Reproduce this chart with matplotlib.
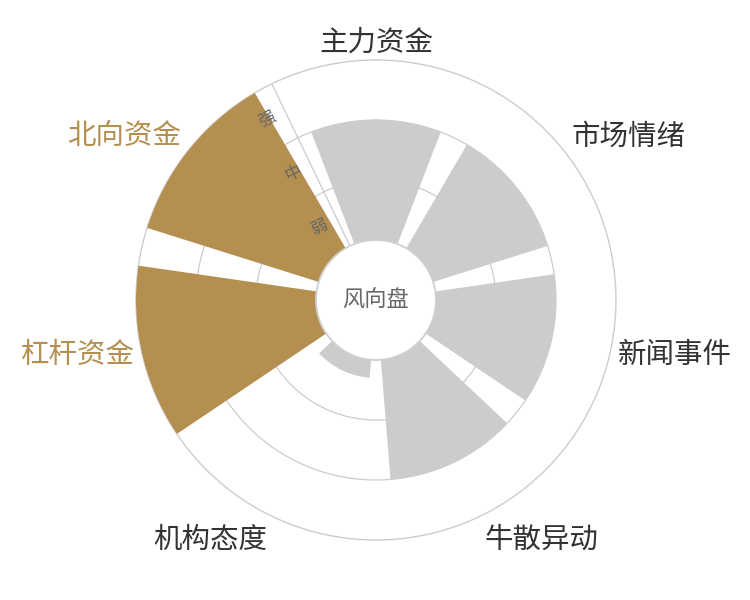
import numpy as np
import matplotlib
matplotlib.use("Agg")
import matplotlib.pyplot as plt
from matplotlib.patches import Circle

plt.rcParams['font.family'] = ['Noto Sans CJK SC', 'DejaVu Sans']

categories = ['主力资金', '市场情绪', '新闻事件', '牛散异动', '机构态度', '杠杆资金', '北向资金']
values = [2, 2, 2, 2, 0.3, 3, 3]
levels = ['弱', '中', '强']
center_text = '风向盘'

gold = '#B58F50'
gray_bar = '#CCCCCC'
line_gray = '#CCCCCC'

fig = plt.figure(figsize=(7.5, 6), dpi=100)
ax = fig.add_axes([0.1813, 0.1, 0.64, 0.8], projection='polar')
ax.set_theta_zero_location('N')
ax.set_theta_direction(-1)
ax.set_ylim(0, 4)

n = len(categories)
step = 2 * np.pi / n
thetas = np.arange(n) * step
colors = [gold if v >= 3 else gray_bar for v in values]

# grid
ax.set_xticks([])
ax.set_yticks([2, 3])
ax.set_yticklabels([])
ax.yaxis.grid(True, color=line_gray, linewidth=0.9)
ax.tick_params(length=0)
ax.set_axisbelow(True)
ax.spines['polar'].set_color(line_gray)
ax.spines['polar'].set_linewidth(1.0)

ax.bar(thetas, values, width=0.82 * step, bottom=1, color=colors,
       edgecolor='none', zorder=3)

# radial axis line
axis_theta = -step / 2
ax.plot([axis_theta, axis_theta], [1, 4], color=line_gray, linewidth=0.9, zorder=2)

# radial labels
a = step / 2
off = 14
dx, dy = -np.cos(a) * off, -np.sin(a) * off
for i, lab in enumerate(levels):
    ax.annotate(lab, xy=(axis_theta, 1.5 + i), xytext=(dx, dy),
                textcoords='offset points', ha='center', va='center',
                rotation=np.rad2deg(step / 2), fontsize=12, color='#666666',
                zorder=6)

# center hole
hole = Circle((0.5, 0.5), 0.125, transform=ax.transAxes, facecolor='white',
              edgecolor='#CFCFCF', linewidth=1.3, zorder=5)
ax.add_patch(hole)
ax.text(0, 0, center_text, ha='center', va='center', fontsize=16,
        color='#666666', zorder=7)

# category labels
for th, lab, v in zip(thetas, categories, values):
    s, c = np.sin(th), np.cos(th)
    ha = 'left' if s > 0.1 else ('right' if s < -0.1 else 'center')
    if c > 0.5:
        va, r = 'baseline', 4.16
    elif c < -0.5:
        va, r = 'top', 4.16
    else:
        va, r = 'center', 4.13
    ax.text(th, r, lab, ha=ha, va=va, fontsize=20.5,
            color=gold if v >= 3 else '#333333')

fig.savefig('out.png', dpi=100)
